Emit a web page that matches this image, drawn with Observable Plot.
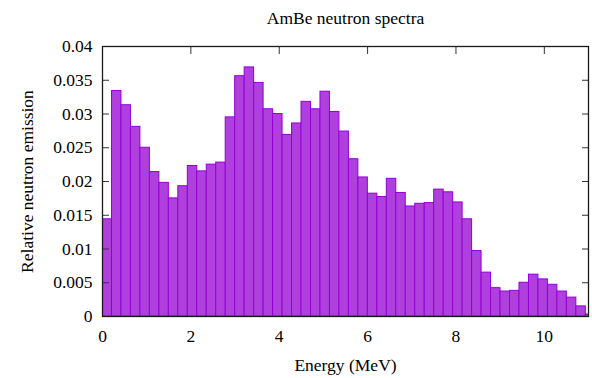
<!DOCTYPE html>
<html>
<head>
<meta charset="utf-8">
<script src="https://cdn.jsdelivr.net/npm/d3@7"></script>
<script src="https://cdn.jsdelivr.net/npm/@observablehq/plot@0.6"></script>
<style>
  html, body { margin: 0; padding: 0; background: #fff; }
  svg { display: block; }
  #chart svg text { font-family: "Liberation Serif", "Times New Roman", serif !important; }
</style>
</head>
<body>
<div id="chart"></div>
<script>
// Lower edges of the energy bins (MeV)
const energy = [0, 0.2145, 0.429, 0.6435, 0.858, 1.0725, 1.287, 1.5015, 1.716, 1.9305,
  2.145, 2.3595, 2.574, 2.7885, 3.003, 3.2175, 3.432, 3.6465, 3.861, 4.0755,
  4.29, 4.5045, 4.719, 4.9335, 5.148, 5.3625, 5.577, 5.7915, 6.006, 6.2205,
  6.435, 6.6495, 6.864, 7.0785, 7.293, 7.5075, 7.722, 7.9365, 8.151, 8.3655,
  8.58, 8.7945, 9.009, 9.2235, 9.438, 9.6525, 9.867, 10.0815, 10.296, 10.5105,
  10.725, 10.9395];
// Relative neutron emission per bin
const emission = [0.0144, 0.0334, 0.0313, 0.0281, 0.0250, 0.0214, 0.0198, 0.0175, 0.0193, 0.0223,
  0.0215, 0.0225, 0.0228, 0.0295, 0.0356, 0.0369, 0.0346, 0.0307, 0.0300, 0.0269,
  0.0286, 0.0318, 0.0307, 0.0333, 0.0303, 0.0274, 0.0233, 0.0206, 0.0182, 0.0177,
  0.0204, 0.0183, 0.0163, 0.0167, 0.0168, 0.0188, 0.0184, 0.0169, 0.0144, 0.0097,
  0.0065, 0.0042, 0.0037, 0.0038, 0.0050, 0.0062, 0.0055, 0.0047, 0.0037, 0.0028,
  0.0015, 0.0003];
const xTicks = [0, 2, 4, 6, 8, 10];
const xTickLabels = ["0", "2", "4", "6", "8", "10"];
const yTicks = [0, 0.005, 0.01, 0.015, 0.02, 0.025, 0.03, 0.035, 0.04];
const yTickLabels = ["0", "0.005", "0.01", "0.015", "0.02", "0.025", "0.03", "0.035", "0.04"];
const title = "AmBe neutron spectra";
const xLabel = "Energy (MeV)";
const yLabel = "Relative neutron emission";

const data = energy.map((e, i) => ({
  x1: e,
  x2: i + 1 < energy.length ? energy[i + 1] : e + (e - energy[i - 1]),
  y: emission[i]
}));

const font = "Liberation Serif";
const tickColor = "#333";
const fs = 17.5;

const chart = Plot.plot({
  width: 592,
  height: 378,
  marginLeft: 102,
  marginRight: 4,
  marginTop: 46,
  marginBottom: 62,
  style: { fontFamily: font, fontSize: "17px", color: "#000", background: "#fff" },
  x: { domain: [0, 11] },
  y: { domain: [0, 0.04] },
  marks: [
    Plot.rectY(data, { x1: "x1", x2: "x2", y: "y", fill: "#af40de", stroke: "#9400d3", strokeWidth: 1, clip: true }),
    // inward ticks
    Plot.axisY(yTicks, { anchor: "left", tickSize: -7, tickFormat: () => "", label: null, stroke: tickColor }),
    Plot.axisY(yTicks, { anchor: "right", tickSize: -7, tickFormat: () => "", label: null, stroke: tickColor }),
    Plot.axisX(xTicks, { anchor: "top", tickSize: -7, tickFormat: () => "", label: null, stroke: tickColor }),
    // tick labels
    Plot.text(yTicks, { y: (d) => d, frameAnchor: "left", textAnchor: "end", dx: -10, text: (d, i) => yTickLabels[i], fontSize: fs, fontFamily: font, fill: "#000" }),
    Plot.text(xTicks, { x: (d) => d, frameAnchor: "bottom", lineAnchor: "top", dy: 13, text: (d, i) => xTickLabels[i], fontSize: fs, fontFamily: font, fill: "#000" }),
    Plot.frame({ stroke: "#1a1a1a", strokeWidth: 1.3 }),
    Plot.text([title], { frameAnchor: "top", lineAnchor: "middle", dy: -28, fontSize: fs, fontFamily: font }),
    Plot.text([xLabel], { frameAnchor: "bottom", lineAnchor: "middle", dy: 49, fontSize: fs, fontFamily: font }),
    Plot.text([yLabel], { frameAnchor: "left", textAnchor: "middle", dx: -75, rotate: -90, fontSize: fs, fontFamily: font })
  ]
});
document.getElementById("chart").appendChild(chart);
</script>
</body>
</html>
